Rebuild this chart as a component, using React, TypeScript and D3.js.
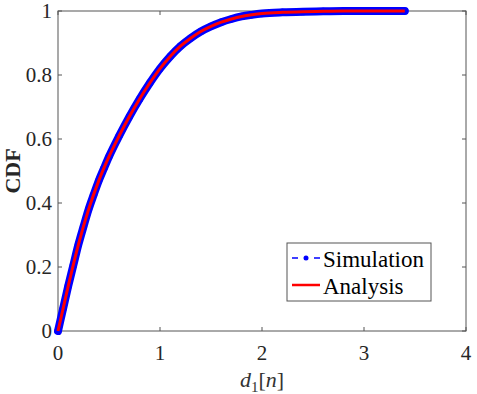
import React from "react";
import * as d3 from "d3";

// values
const analysisX = [0, 0.1, 0.2, 0.3, 0.4, 0.5, 0.6, 0.7, 0.8, 0.9, 1.0, 1.1, 1.2, 1.3, 1.4, 1.5, 1.6, 1.7, 1.8, 1.9, 2.0, 2.2, 2.4, 2.6, 2.8, 3.0, 3.2, 3.4];
const analysisY = [0, 0.14, 0.27, 0.38, 0.47, 0.545, 0.61, 0.67, 0.725, 0.775, 0.82, 0.858, 0.89, 0.915, 0.936, 0.952, 0.965, 0.975, 0.983, 0.988, 0.992, 0.996, 0.998, 0.999, 1.0, 1.0, 1.0, 1.0];
const simX = [0, 0.05, 0.1, 0.15, 0.2, 0.25, 0.3, 0.35, 0.4, 0.45, 0.5, 0.6, 0.7, 0.8, 0.9, 1.0, 1.1, 1.2, 1.3, 1.4, 1.5, 1.6, 1.7, 1.8, 1.9, 2.0, 2.2, 2.4, 2.6, 2.8, 3.0, 3.2, 3.4];
const simY = [0, 0.07, 0.14, 0.205, 0.27, 0.326, 0.38, 0.426, 0.47, 0.508, 0.545, 0.61, 0.67, 0.725, 0.775, 0.82, 0.858, 0.89, 0.915, 0.936, 0.952, 0.965, 0.975, 0.983, 0.988, 0.992, 0.996, 0.998, 0.999, 1.0, 1.0, 1.0, 1.0];
const xTicks = [0, 1, 2, 3, 4];
const yTicks = [0, 0.2, 0.4, 0.6, 0.8, 1];
const legendLabels = ["Simulation", "Analysis"];

const W = 477;
const H = 394;
const margin = { left: 58, right: 11, top: 11, bottom: 63 };
const axisColor = "#555";
const txt = { fontFamily: '"Liberation Serif", "Times New Roman", serif' };

export default function App() {
  const x = d3.scaleLinear().domain([0, 4]).range([margin.left, W - margin.right]);
  const y = d3.scaleLinear().domain([0, 1]).range([H - margin.bottom, margin.top]);
  const line = d3.line<[number, number]>().x(d => x(d[0])).y(d => y(d[1])).curve(d3.curveMonotoneX);

  const sim: [number, number][] = simX.map((v, i) => [v, simY[i]]);
  const ana: [number, number][] = analysisX.map((v, i) => [v, analysisY[i]]);

  const [x0, x1] = x.range();
  const [y0, y1] = y.range();
  const tickLen = 4;

  const lx = 287, ly = 243, lw = 144, lh = 58;

  return (
    <svg width={W} height={H} style={{ position: "absolute", left: 0, top: 0, background: "#fff" }}>
      <rect x={0} y={0} width={W} height={H} fill="#fff" />
      {/* box */}
      <rect x={x0} y={y1} width={x1 - x0} height={y0 - y1} fill="#fff" stroke={axisColor} strokeWidth={1} />
      {/* ticks */}
      {xTicks.map(t => (
        <g key={"x" + t}>
          <line x1={x(t)} x2={x(t)} y1={y0} y2={y0 - tickLen} stroke={axisColor} />
          <line x1={x(t)} x2={x(t)} y1={y1} y2={y1 + tickLen} stroke={axisColor} />
          <text x={x(t)} y={y0 + 29} textAnchor="middle" fontSize={21} fill="#262626" style={txt}>{t}</text>
        </g>
      ))}
      {yTicks.map(t => (
        <g key={"y" + t}>
          <line x1={x0} x2={x0 + tickLen} y1={y(t)} y2={y(t)} stroke={axisColor} />
          <line x1={x1} x2={x1 - tickLen} y1={y(t)} y2={y(t)} stroke={axisColor} />
          <text x={x0 - 6} y={y(t) + 7} textAnchor="end" fontSize={21} fill="#262626" style={txt}>{t}</text>
        </g>
      ))}

      {/* simulation: dashed line with dense circle markers */}
      <path d={line(sim) || ""} fill="none" stroke="#0000ff" strokeWidth={8} strokeLinecap="round" strokeLinejoin="round" />
      {sim.map((d, i) => (
        <circle key={i} cx={x(d[0])} cy={y(d[1])} r={3.6} fill="#0000ff" />
      ))}
      {/* analysis */}
      <path d={line(ana) || ""} fill="none" stroke="#ff0000" strokeWidth={3} strokeLinejoin="round" />

      {/* axis labels */}
      <text transform={`translate(20, ${(y0 + y1) / 2}) rotate(-90)`} textAnchor="middle" fontSize={22} fontWeight="bold" fill="#262626" style={txt}>CDF</text>
      <text x={(x0 + x1) / 2} y={387} textAnchor="middle" fontSize={22} fill="#333" style={txt}>
        <tspan fontStyle="italic">d</tspan>
        <tspan fontSize={15} dy={5}>1</tspan>
        <tspan dy={-5}>[</tspan>
        <tspan fontStyle="italic">n</tspan>
        <tspan>]</tspan>
      </text>

      {/* legend */}
      <rect x={lx} y={ly} width={lw} height={lh} fill="#fff" stroke={axisColor} />
      <line x1={lx + 5} x2={lx + 33} y1={258} y2={258} stroke="#0000ff" strokeWidth={1.5} strokeDasharray="6,16" />
      <circle cx={lx + 19} cy={258} r={2.5} fill="#0000ff" />
      <text x={lx + 36} y={267} fontSize={23} fill="#000" style={txt}>{legendLabels[0]}</text>
      <line x1={lx + 5} x2={lx + 33} y1={285} y2={285} stroke="#ff0000" strokeWidth={2.5} />
      <text x={lx + 36} y={294} fontSize={23} fill="#000" style={txt}>{legendLabels[1]}</text>
    </svg>
  );
}
